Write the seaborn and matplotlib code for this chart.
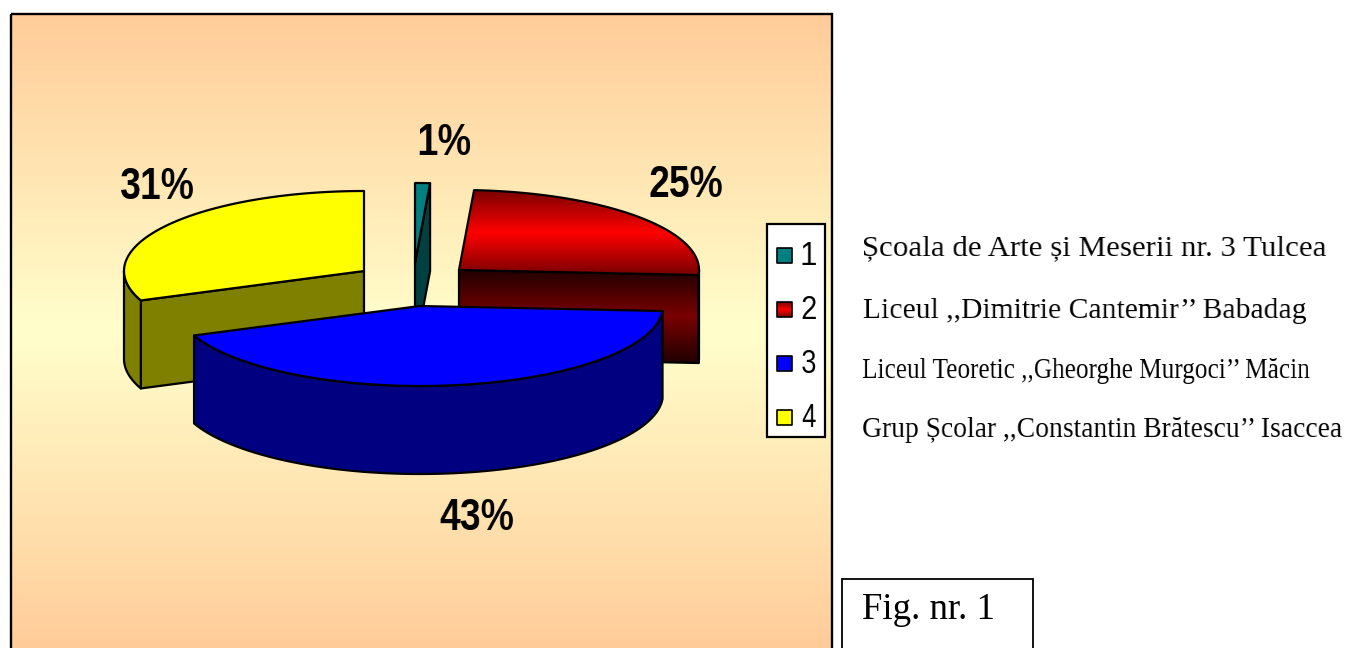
import numpy as np
import matplotlib
matplotlib.use('Agg')
import matplotlib.pyplot as plt
from matplotlib.patches import Polygon, Rectangle
import seaborn as sns

# share of each school, slices run clockwise from 12 o'clock
slice_ids = ['1', '2', '3', '4']
shares = [1, 25, 43, 31]
schools = [
    'Școala de Arte și Meserii nr. 3 Tulcea',
    'Liceul ,,Dimitrie Cantemir’’ Babadag',
    'Liceul Teoretic ,,Gheorghe Murgoci’’ Măcin',
    'Grup Școlar ,,Constantin Brătescu’’ Isaccea',
]
fig_label = 'Fig. nr. 1'

# look of the fake 3d pie, all in pixels
RY, DEPTH = 80, 88
radii = {'1': 240, '2': 240, '3': 243, '4': 240}
centres = {'1': (415, 263), '2': (459, 270), '3': (420, 306), '4': (364, 271)}
top_cols = {'1': '#008080', '3': '#0000ff', '4': '#ffff00'}
side_cols = {'1': '#004040', '3': '#000080', '4': '#808000'}
label_pos = {'1': (444, 155, 52), '2': (686, 197, 72), '3': (477, 530, 73), '4': (157, 199, 72)}
text_baselines = [255, 318, 378, 437]
text_rights = [1327, 1306, 1310, 1342]
text_widths = [463, 443, 448, 479]
TEXT_EDGE = 1345

sns.set_theme(style='white')
plt.rcParams['font.family'] = ['Liberation Sans', 'DejaVu Sans']

bg_cmap = sns.blend_palette(['#ffcc99', '#ffffcc', '#ffcc99'], as_cmap=True)
red_top = sns.blend_palette(['#7a0000', '#ff0000', '#7a0000'], as_cmap=True)
red_side = sns.blend_palette(['#200000', '#7a0000', '#200000'], as_cmap=True)


def squeeze(width, move=None):
    # the original text is set narrow, so narrow the drawn glyphs to the read width
    def apply(img, dpi):
        h, w = img.shape[:2]
        xs = np.linspace(0, w - 1, width)
        out = np.stack([np.interp(xs, np.arange(w), img[r, :, c]) for r in range(h) for c in range(4)])
        out = out.reshape(h, 4, width).transpose(0, 2, 1)
        shift = (w - width) // 2 if move is None else w - width - move
        return out, shift, 0
    return apply


def arc(k, a0, a1):
    cx, cy = centres[k]
    t = np.radians(np.linspace(a0, a1, 80))
    return np.column_stack([cx + radii[k] * np.sin(t), cy - RY * np.cos(t)])


def shape(ax, pts, z, color=None, cmap=None, lw=1.6):
    if cmap is not None:
        y0, y1 = pts[:, 1].min(), pts[:, 1].max()
        grad = np.linspace(0, 1, 256).reshape(-1, 1)
        im = ax.imshow(grad, cmap=cmap, extent=(pts[:, 0].min(), pts[:, 0].max(), y1, y0),
                       aspect='auto', zorder=z, origin='upper')
        im.set_clip_path(Polygon(pts, closed=True, transform=ax.transData))
    face = 'none' if cmap is not None else color
    ax.add_patch(Polygon(pts, closed=True, facecolor=face, edgecolor='black', linewidth=lw,
                         joinstyle='round', zorder=z + 0.1))


fig = plt.figure(figsize=(13.47, 6.48), dpi=100, facecolor='white')
ax = fig.add_axes([0, 0, 1, 1])

# chart area
ax.imshow(np.linspace(0, 1, 256).reshape(-1, 1), cmap=bg_cmap, extent=(11, 832, 648, 14),
          aspect='auto', zorder=0)
ax.add_patch(Rectangle((11, 14), 821, 640, fill=False, edgecolor='black', linewidth=1.7, zorder=1))

# slices, back to front
edges = np.cumsum([0] + shares) * 3.6
angles = {k: (edges[i], edges[i + 1]) for i, k in enumerate(slice_ids)}
z = 2
for k in ['1', '2', '4', '3']:
    a0, a1 = angles[k]
    side = dict(cmap=red_side) if k == '2' else dict(color=side_cols.get(k))
    top = dict(cmap=red_top) if k == '2' else dict(color=top_cols.get(k))
    down = np.array([0, DEPTH])
    apex = np.array(centres[k])
    faces = []
    # back edge of a slice stays hidden, only cuts turned to the viewer are drawn
    if 180 < a0 < 360:
        p = arc(k, a0, a0)[0]
        faces.append(np.array([apex, p, p + down, apex + down]))
    if 0 < a1 < 180:
        p = arc(k, a1, a1)[0]
        faces.append(np.array([apex, p, p + down, apex + down]))
    w0, w1 = max(a0, 90), min(a1, 270)
    if w1 > w0:
        rim = arc(k, w0, w1)
        faces.append(np.vstack([rim, (rim + down)[::-1]]))
    for pts in faces:
        shape(ax, pts, z, **side)
        z += 1
    shape(ax, np.vstack([apex, arc(k, a0, a1)]), z, **top)
    z += 1

# percent labels
for k, val in zip(slice_ids, shares):
    x, y, w = label_pos[k]
    t = ax.text(x, y, f'{val}%', ha='center', va='baseline', fontsize=32, fontweight='bold',
                color='black', zorder=z)
    t.set_agg_filter(squeeze(w))

# legend box
ax.add_patch(Rectangle((767, 224), 58, 213, facecolor='white', edgecolor='black', linewidth=1.6, zorder=z))
for i, k in enumerate(slice_ids):
    y = 255 + i * 54
    sw = np.array([[777, y - 7], [792, y - 7], [792, y + 8], [777, y + 8]], dtype=float)
    shape(ax, sw, z + 1, **(dict(cmap=red_top) if k == '2' else dict(color=top_cols[k])), lw=1.2)
    t = ax.text(809, y + 10, k, ha='center', va='baseline', fontsize=24, color='black', zorder=z + 2)
    t.set_agg_filter(squeeze(14))

# school names, ink squeezed to the line width in the original
for line, base, right, width in zip(schools, text_baselines, text_rights, text_widths):
    t = ax.text(TEXT_EDGE, base, line, ha='right', va='baseline', fontsize=21,
                family=['Liberation Serif', 'DejaVu Serif'], color='black', zorder=z)
    t.set_agg_filter(squeeze(width, move=TEXT_EDGE - right))

# figure caption box
ax.add_patch(Rectangle((842, 579), 191, 80, facecolor='white', edgecolor='black', linewidth=1.3, zorder=z))
ax.text(862, 619, fig_label, ha='left', va='baseline', fontsize=26.5,
        family=['Liberation Serif', 'DejaVu Serif'], color='black', zorder=z + 1)

ax.set_xlim(0, 1347)
ax.set_ylim(648, 0)
ax.axis('off')

plt.savefig('out.png', dpi=100, facecolor=fig.get_facecolor())
